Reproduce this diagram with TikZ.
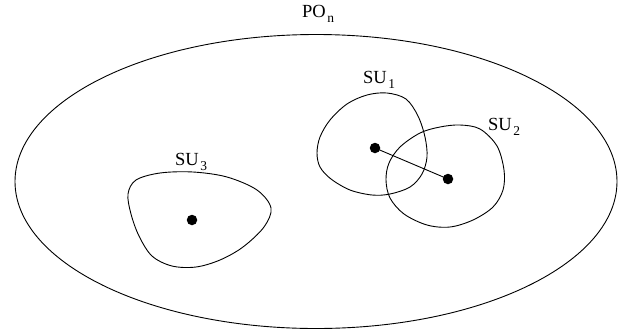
\documentclass[tikz,border=0pt]{standalone}
\usepackage{fontspec}
\setmainfont{Liberation Serif}
\newcommand\lowsub[1]{\kern1.5pt\raisebox{-5pt}{\fontsize{13.5}{14}\selectfont #1}}
\begin{document}
\begin{tikzpicture}[x=1pt,y=-1pt,
  outline/.style={draw=black,line width=0.9pt},
  blob/.style={draw=black,line width=0.9pt},
  userdot/.style={circle,fill=black,inner sep=0pt,minimum size=10.5pt},
  lbl/.style={anchor=base west,inner sep=0pt,font=\fontsize{18.5}{21}\selectfont}]
\useasboundingbox (0,0) rectangle (629,333);
\draw[outline] (316,181.5) ellipse [x radius=301, y radius=147];
\node[lbl] (po) at (302,17.5) {PO\lowsub{n}};
% SU1 region
\draw[blob] plot[smooth cycle,tension=0.55] coordinates {
  (317,153) (320,137) (330,120) (347,104) (367,95) (387,93) (406,99) (418,116)
  (425,137) (427,157) (422,174) (410,187) (390,194) (372,195) (350,190) (331,179) (320,167)};
% SU2 region
\draw[blob] plot[smooth cycle,tension=0.55] coordinates {
  (386,180) (389,163) (400,147) (420,133) (440,127) (460,125) (480,129) (497,146)
  (504,170) (503,190) (493,207) (473,220) (450,227) (427,225) (404,214) (390,198)};
% SU3 region
\draw[blob] plot[smooth cycle,tension=0.55] coordinates {
  (128,194) (136,180) (160,173) (193,172) (227,177) (257,190) (271,208) (264,227)
  (243,247) (220,260) (196,267) (172,266) (152,256) (139,236) (131,214)};
\node[userdot] (d1) at (375,148) {};
\node[userdot] (d2) at (448,179) {};
\node[userdot] (d3) at (192,220) {};
\draw[line width=0.9pt] (d1.center) -- (d2.center);
\node[lbl] (su1) at (363,83) {SU\lowsub{1}};
\node[lbl] (su2) at (488,130) {SU\lowsub{2}};
\node[lbl] (su3) at (175,165) {SU\lowsub{3}};
\end{tikzpicture}
\end{document}
